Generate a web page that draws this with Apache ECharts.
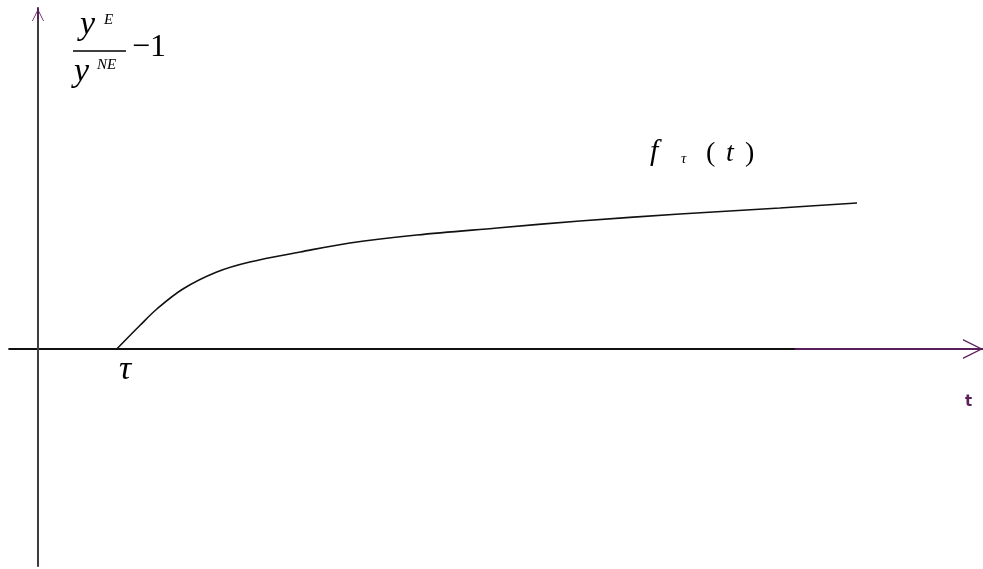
<!DOCTYPE html>
<html><head><meta charset="utf-8">
<script src="https://cdn.jsdelivr.net/npm/echarts@6/dist/echarts.min.js"></script>
<style>html,body{margin:0;padding:0;background:#fff}#c{width:983px;height:569px}</style>
</head><body><div id="c"></div>
<script>
// curve f_tau(t): t values and f values (data units)
var curveT = [1.00, 1.30, 1.51, 1.84, 2.27, 2.69, 3.33, 3.96, 4.81, 5.83, 6.88, 8.15, 9.42, 10.40];
var curveF = [0.00, 0.24, 0.40, 0.60, 0.77, 0.87, 0.97, 1.06, 1.14, 1.21, 1.28, 1.35, 1.41, 1.46];
// axis extents
var xRange = [-0.368, 12];
var yRange = [-2.17, 3.41];
// black part of the horizontal axis, grey part of the vertical axis
var xAxisBlackSpan = [-0.368, 9.61];
var yAxisGreySpan = [-2.17, 3.30];

var chevron = 'path://M0,20 L10,0 L20,20 L18.6,20 L10,2.8 L1.4,20 Z';
var purple = '#5a1f5a';
var serif = '"Liberation Serif", "DejaVu Serif", serif';

var chart = echarts.init(document.getElementById('c'), null, {renderer: 'canvas'});
chart.setOption({
  animation: false,
  backgroundColor: '#fff',
  grid: {left: 9, right: 0, top: 8, bottom: 3, containLabel: false},
  xAxis: {
    type: 'value', min: xRange[0], max: xRange[1],
    axisLine: {onZero: true, lineStyle: {color: purple, width: 2}, symbol: ['none', chevron], symbolSize: [24, 20], symbolOffset: [0, -10]},
    axisTick: {show: false}, axisLabel: {show: false}, splitLine: {show: false}
  },
  yAxis: {
    type: 'value', min: yRange[0], max: yRange[1],
    axisLine: {onZero: true, lineStyle: {color: purple, width: 2}, symbol: ['none', chevron], symbolSize: [12, 14], symbolOffset: [0, -7]},
    axisTick: {show: false}, axisLabel: {show: false}, splitLine: {show: false}
  },
  series: [
    {type: 'line', data: [[xAxisBlackSpan[0], 0], [xAxisBlackSpan[1], 0]], symbol: 'none', silent: true,
      lineStyle: {color: '#111', width: 2}, z: 3},
    {type: 'line', data: [[0, yAxisGreySpan[0]], [0, yAxisGreySpan[1]]], symbol: 'none', silent: true,
      lineStyle: {color: '#3e3e3e', width: 2}, z: 3},
    {type: 'line', data: curveT.map(function (t, i) { return [t, curveF[i]]; }), symbol: 'none', smooth: 0.35,
      lineStyle: {color: '#111', width: 1.6}, z: 4}
  ],
  graphic: [
    {type: 'text', x: 80, y: 25.5, style: {text: 'y', font: 'italic 34px ' + serif, fill: '#000', verticalAlign: 'middle', align: 'left'}},
    {type: 'text', x: 104, y: 20, style: {text: 'E', font: 'italic 15px ' + serif, fill: '#000', verticalAlign: 'middle', align: 'left'}},
    {type: 'line', shape: {x1: 73, y1: 51, x2: 126, y2: 51}, style: {stroke: '#000', lineWidth: 1.5}},
    {type: 'text', x: 74, y: 72.5, style: {text: 'y', font: 'italic 34px ' + serif, fill: '#000', verticalAlign: 'middle', align: 'left'}},
    {type: 'text', x: 97, y: 65, style: {text: 'NE', font: 'italic 15px ' + serif, fill: '#000', verticalAlign: 'middle', align: 'left'}},
    {type: 'text', x: 132, y: 48, style: {text: '\u22121', font: '32px ' + serif, fill: '#000', verticalAlign: 'middle', align: 'left'}},

    {type: 'text', x: 650, y: 152.5, style: {text: 'f', font: 'italic 30px ' + serif, fill: '#000', verticalAlign: 'middle', align: 'left'}},
    {type: 'text', x: 681, y: 159.5, style: {text: '\u03c4', font: 'italic 15px ' + serif, fill: '#000', verticalAlign: 'middle', align: 'left'}},
    {type: 'text', x: 706, y: 153.5, style: {text: '(', font: '28px ' + serif, fill: '#000', verticalAlign: 'middle', align: 'left'}},
    {type: 'text', x: 726, y: 153.5, style: {text: 't', font: 'italic 28px ' + serif, fill: '#000', verticalAlign: 'middle', align: 'left'}},
    {type: 'text', x: 745, y: 153.5, style: {text: ')', font: '28px ' + serif, fill: '#000', verticalAlign: 'middle', align: 'left'}},

    {type: 'text', x: 119, y: 370, style: {text: '\u03c4', font: 'italic 34px ' + serif, fill: '#000', verticalAlign: 'middle', align: 'left'}},
    {type: 'text', x: 965, y: 402, style: {text: 't', font: 'bold 15px "DejaVu Sans", sans-serif', fill: purple, verticalAlign: 'middle', align: 'left'}}
  ]
});
</script>
</body></html>
